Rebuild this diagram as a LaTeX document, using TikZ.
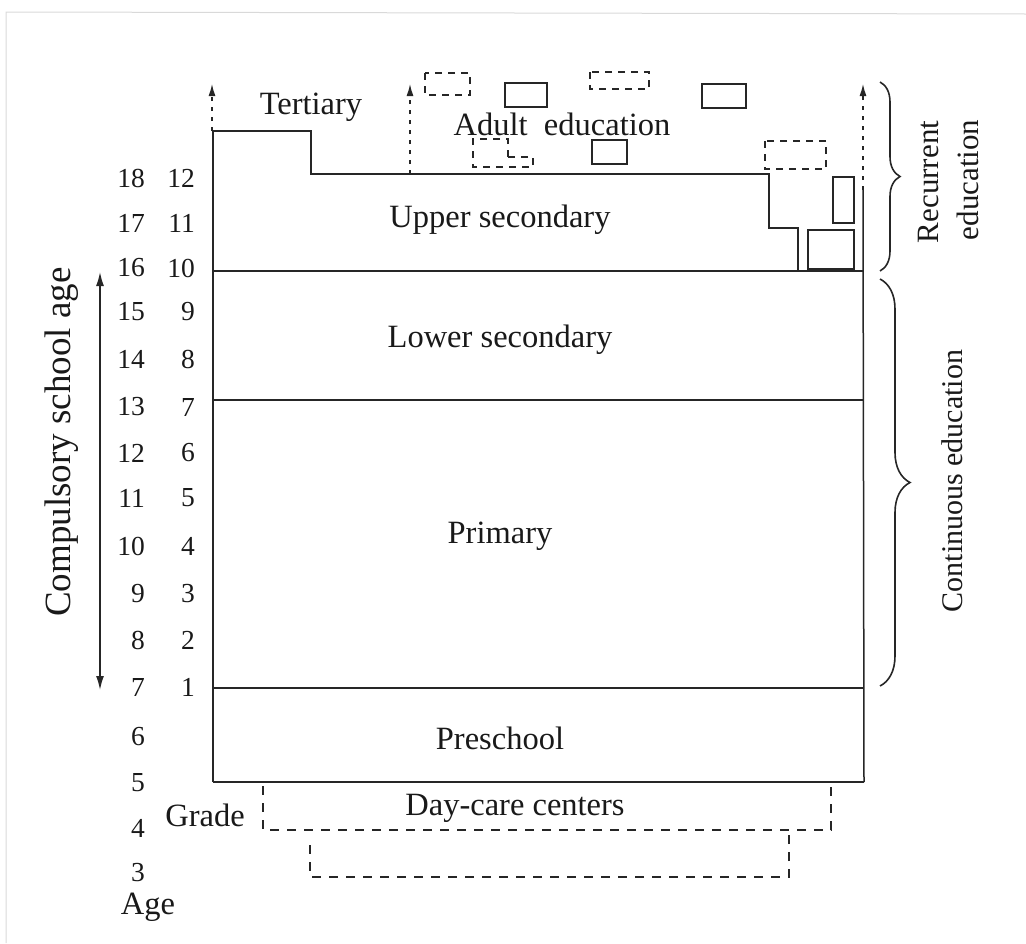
\documentclass[tikz,border=0pt]{standalone}
\usepackage{fontspec}
\setmainfont{Liberation Serif}
\usetikzlibrary{arrows.meta,decorations.pathreplacing}
\tikzset{
  ink/.style={draw=black!85, line width=1.5pt},
  lbl/.style={font=\fontsize{32.5}{38}\selectfont, text=black!90, inner sep=0pt},
  num/.style={font=\fontsize{27.5}{32}\selectfont, text=black!90, inner sep=0pt, anchor=east},
  dbox/.style={draw=black!85, line width=1.5pt, dash pattern=on 7pt off 6pt},
  sbox/.style={draw=black!85, line width=1.6pt},
  uparrow/.style={draw=black!85, line width=1.3pt, dash pattern=on 4pt off 6pt, -{Latex[length=12pt,width=7pt]}},
  dbl/.style={draw=black!85, line width=1.5pt, {Latex[length=14pt,width=8pt]}-{Latex[length=14pt,width=8pt]}},
  bracestyle/.style={draw=black!85, line width=1.6pt, decorate},
  daycare/.style={draw=black!85, line width=1.5pt, dash pattern=on 9pt off 8pt}
}
\begin{document}
\begin{tikzpicture}[x=1pt,y=-1pt]
\useasboundingbox (0,0) rectangle (1026,943);
% faint scan frame
\draw[gray!30, line width=1pt] (6,943) -- (6,12) -- (1026,14);

% main structure
\draw[ink] (213,782) -- (213,131) -- (311,131) -- (311,174) -- (769,174) -- (769,228) -- (798,228) -- (798,271);
\draw[ink] (213,271) -- (864,271);
\draw[ink] (213,400) -- (864,400);
\draw[ink] (213,688) -- (864,688);
\draw[ink] (213,782) -- (864,782);
\draw[ink] (863,190) -- (864,782);

% dashed up arrows
\coordinate (a1s) at (212,131); \coordinate (a1e) at (212,84);
\coordinate (a2s) at (410,174); \coordinate (a2e) at (410,84);
\coordinate (a3s) at (863,190); \coordinate (a3e) at (863,84);
\draw[uparrow] (a1s) -- (a1e);
\draw[uparrow] (a2s) -- (a2e);
\draw[uparrow] (a3s) -- (a3e);

% small boxes
\draw[dbox] (425,73) rectangle (470,95);
\draw[sbox] (505,83) rectangle (547,107);
\draw[dbox] (590,72) rectangle (649,89);
\draw[sbox] (702,84) rectangle (746,108);
\draw[dbox] (508,157) -- (508,139) -- (473,139) -- (473,167) -- (533,167) -- (533,157) -- cycle;
\draw[sbox] (592,140) rectangle (627,164);
\draw[dbox] (765,141) rectangle (826,169);
\draw[sbox] (833,177) rectangle (854,223);
\draw[sbox] (808,230) rectangle (854,269);

% day-care dashed outlines
\draw[daycare] (263,786) -- (263,830) -- (831,830) -- (831,786);
\draw[daycare] (310,845) -- (310,877) -- (789,877) -- (789,830);

% labels
\node[lbl] (tert) at (311,107) {Tertiary};
\node[lbl] (adult) at (562,124) {Adult\ \ education};
\node[lbl] (upper) at (500,220) {Upper secondary};
\node[lbl] (lower) at (500,340) {Lower secondary};
\node[lbl] (prim) at (500,536) {Primary};
\node[lbl] (pre) at (500,738) {Preschool};
\node[lbl] (day) at (515,808) {Day-care centers};
\node[lbl] (grade) at (205,815) {Grade};
\node[lbl] (age) at (148,907) {Age};

% age numbers
\foreach \a/\y in {18/178,17/223,16/268,15/312,14/359,13/407,12/453,11/498,10/546,9/594,8/640,7/687,6/737,5/783,4/828,3/873}
  \node[num] (age\a) at (145,\y) {\a};
% grade numbers
\foreach \g/\y in {12/178,11/223,10/268,9/312,8/359,7/407,6/453,5/498,4/546,3/594,2/640,1/687}
  \node[num] (gr\g) at (195,\y) {\g};

% compulsory school age
\coordinate (cTop) at (100,272);
\coordinate (cBot) at (100,690);
\draw[dbl] (cTop) -- (cBot);
\node[lbl, rotate=90, font=\fontsize{37}{42}\selectfont] (comp) at (62,442) {Compulsory school age};

% braces
\coordinate (b1t) at (880,82); \coordinate (b1b) at (880,271);
\coordinate (b2t) at (880,279); \coordinate (b2b) at (880,686);
\draw[bracestyle, decoration={brace, amplitude=20pt}] (b1t) -- (b1b);
\draw[bracestyle, decoration={brace, amplitude=30pt}] (b2t) -- (b2b);
\node[lbl, rotate=90, font=\fontsize{31}{36}\selectfont] (rec1) at (928,182) {Recurrent};
\node[lbl, rotate=90, font=\fontsize{31}{36}\selectfont] (rec2) at (968,180) {education};
\node[lbl, rotate=90, font=\fontsize{30}{35}\selectfont] (cont) at (952,481) {Continuous education};
\end{tikzpicture}
\end{document}
